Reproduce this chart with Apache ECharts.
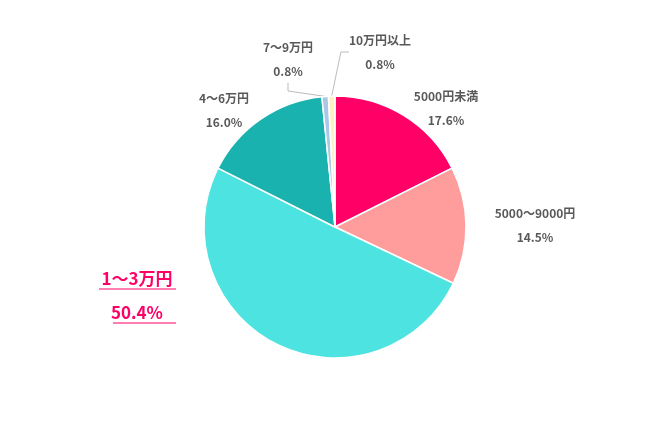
<!DOCTYPE html>
<html><head><meta charset="utf-8">
<script src="https://cdn.jsdelivr.net/npm/echarts@6/dist/echarts.min.js"></script>
<style>html,body{margin:0;background:#fff}#c{width:650px;height:424px}</style>
</head><body><div id="c"></div>
<script>
const categories = ['5000円未満', '5000〜9000円', '1〜3万円', '4〜6万円', '7〜9万円', '10万円以上'];
const values = [17.6, 14.5, 50.4, 16.0, 0.8, 0.8];
const colors = ['#ff0066', '#ff9c9c', '#4de3e0', '#1ab2af', '#a9c8e8', '#fff1c4'];
// label centres (x, y of first line)
const labelPos = [[446, 108], [535, 225], [137, 296], [224, 110], [288, 59], [380, 52]];
const smallIdx = [4, 5];

const chart = echarts.init(document.getElementById('c'));
chart.setOption({
    animation: false,
    graphic: [{ type: 'line', shape: { x1: 99, y1: 289, x2: 176, y2: 289 }, style: { stroke: '#ff0066', lineWidth: 1.2 } },
              { type: 'line', shape: { x1: 113, y1: 323, x2: 176, y2: 323 }, style: { stroke: '#ff0066', lineWidth: 1.2 } }],
    series: [{
        type: 'pie',
        center: [335, 227],
        radius: 131,
        startAngle: 90,
        clockwise: true,
        itemStyle: { borderColor: '#fff', borderWidth: 1.5 },
        label: {
            formatter: p => `${p.name}\n${p.value.toFixed(1)}%`,
            color: '#595959', fontWeight: 'bold', fontSize: 12, lineHeight: 24,
            fontFamily: 'Noto Sans CJK JP', align: 'center'
        },
        labelLine: { show: true, length: 12, length2: 8, lineStyle: { color: '#bbb' } },
        labelLayout: p => ({ x: labelPos[p.dataIndex][0], y: labelPos[p.dataIndex][1], align: 'center', verticalAlign: 'middle' }),
        data: categories.map((name, i) => ({
            name, value: values[i],
            itemStyle: { color: colors[i] },
            labelLine: { show: smallIdx.includes(i) },
            label: i === 2 ? { color: '#ff0066', fontSize: 17, lineHeight: 34 } : {}
        }))
    }]
});
</script></body></html>
